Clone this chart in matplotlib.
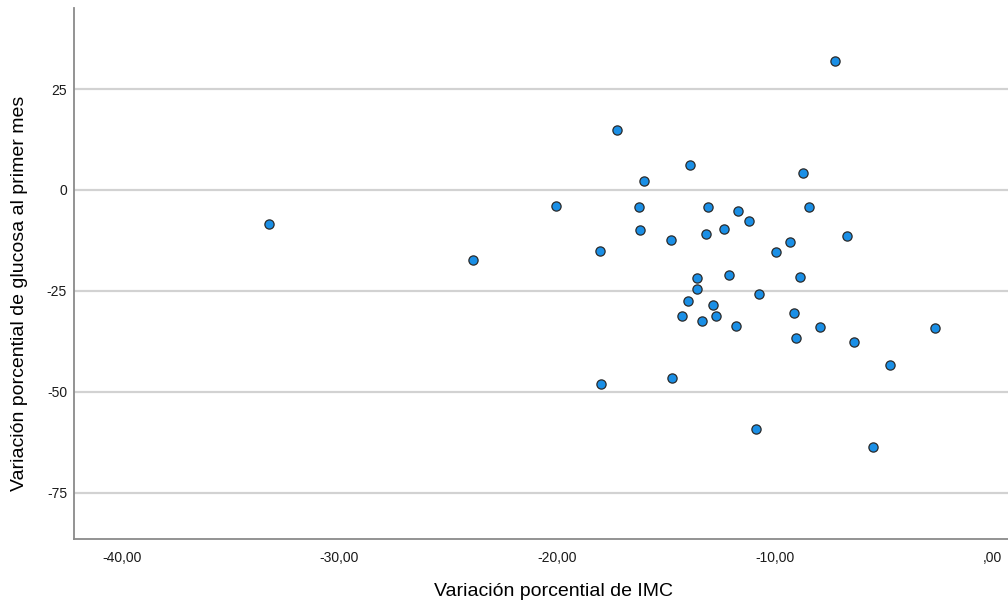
import matplotlib
matplotlib.use("Agg")
import matplotlib.pyplot as plt
from matplotlib.ticker import FixedLocator

# Data
imc_var = [-33.23, -23.85, -17.26, -13.87, -16.01, -20.06, -16.23, -13.06, -11.66,
           -16.18, -12.31, -13.15, -14.77, -18.04, -13.55, -12.08, -13.55, -13.99,
           -12.84, -14.25, -12.69, -13.32, -11.79, -11.16, -7.23, -8.67, -8.43,
           -6.68, -9.30, -9.95, -8.83, -10.73, -9.12, -7.89, -2.62, -9.01, -6.33,
           -4.70, -10.87, -5.46, -17.96, -14.73]
glucosa_var = [-8.5, -17.3, 14.86, 6.19, 2.23, -4.04, -4.13, -4.13, -5.2,
               -9.9, -9.58, -10.8, -12.4, -15.2, -21.9, -21.1, -24.5, -27.4,
               -28.5, -31.2, -31.2, -32.4, -33.6, -7.68, 32.0, 4.13, -4.13,
               -11.3, -12.8, -15.3, -21.5, -25.7, -30.5, -33.9, -34.1, -36.7, -37.7,
               -43.3, -59.2, -63.6, -48.1, -46.6]
x_ticks = [-40, -30, -20, -10, 0]
x_tick_labels = ["-40,00", "-30,00", "-20,00", "-10,00", ",00"]
y_ticks = [25, 0, -25, -50, -75]
y_tick_labels = ["25", "0", "-25", "-50", "-75"]

plt.rcParams['font.family'] = ['Liberation Sans', 'DejaVu Sans']

fig = plt.figure(figsize=(10.08, 6.05), dpi=100)
W, H = 1008, 605
left, right, bottom, top = 74, 1008, 539, 8
ax = fig.add_axes([left / W, (H - bottom) / H, (right - left) / W, (bottom - top) / H])

ax.set_xlim(-42.21, 0.736)
ax.set_ylim(-86.45, 45.08)

ax.yaxis.grid(True, color='#d2d2d2', linewidth=1.6, zorder=0)
ax.xaxis.grid(False)
ax.set_axisbelow(True)

ax.scatter(imc_var, glucosa_var, s=44, facecolor='#1a8fe6', edgecolor='#2a2a2a',
           linewidth=0.9, zorder=3)

ax.xaxis.set_major_locator(FixedLocator(x_ticks))
ax.set_xticklabels(x_tick_labels)
ax.yaxis.set_major_locator(FixedLocator(y_ticks))
ax.set_yticklabels(y_tick_labels)
ax.tick_params(axis='x', length=0, pad=9, labelsize=10, labelcolor='#1a1a1a')
ax.tick_params(axis='y', length=0, pad=5, labelsize=10, labelcolor='#1a1a1a')

for s in ['top', 'right']:
    ax.spines[s].set_visible(False)
for s in ['left', 'bottom']:
    ax.spines[s].set_color('#8a8a8a')
    ax.spines[s].set_linewidth(1.3)

fig.text(553 / W, 1 - 592 / H, "Variación porcential de IMC", ha='center', va='center',
         fontsize=14, color='#000000')
fig.text(20 / W, 1 - 293 / H, "Variación porcential de glucosa al primer mes",
         ha='center', va='center', rotation=90, fontsize=14, color='#000000')

fig.savefig("out.png", dpi=100)
